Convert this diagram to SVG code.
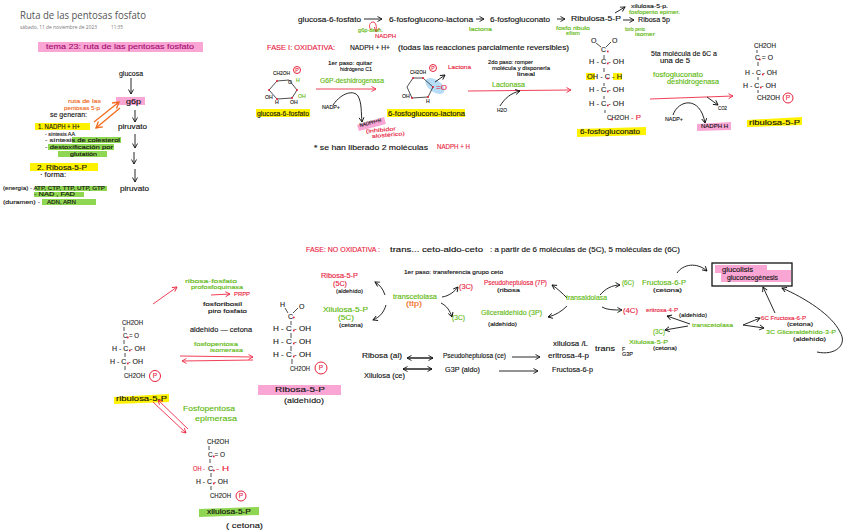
<svg xmlns="http://www.w3.org/2000/svg" width="848" height="531" viewBox="0 0 848 531">
<style>
text{font-family:"Liberation Sans",Arial,sans-serif;font-size:6.5px}
.c{fill:#222;stroke:#222;stroke-width:.12;font-size:7px}
.s{font-size:5.2px}
.k{fill:#111;stroke:#111;stroke-width:.12}
.r{fill:#e8203c;stroke:#e8203c;stroke-width:.12}
.g{fill:#5cb80c;stroke:#5cb80c;stroke-width:.12}
.o{fill:#f26a1b;stroke:#f26a1b;stroke-width:.12}
.m{fill:#a80d72;stroke:#a80d72;stroke-width:.12}
.h{fill:#777;font-family:"Open Sans",sans-serif;font-size:5px}
.y{fill:#fff200}.p{fill:#f9a6d5}.l{fill:#8fd652}
.ak{fill:none;stroke:#111;stroke-width:.9;marker-end:url(#mk)}
.ar{fill:none;stroke:#ee2a45;stroke-width:.9;marker-end:url(#mr)}
.ao{fill:none;stroke:#f26a1b;stroke-width:1.3;marker-end:url(#mo)}
.b{stroke:#222;stroke-width:.8;fill:none}
.dot{fill:#e8203c}
.pc{fill:none;stroke:#e8203c;stroke-width:1}
</style>
<defs>
<marker id="mk" markerWidth="7" markerHeight="7" refX="5.5" refY="3" orient="auto" markerUnits="userSpaceOnUse"><path d="M1 .5L5.5 3L1 5.5" fill="none" stroke="#111" stroke-width=".9"/></marker>
<marker id="mr" markerWidth="7" markerHeight="7" refX="5.5" refY="3" orient="auto" markerUnits="userSpaceOnUse"><path d="M1 .5L5.5 3L1 5.5" fill="none" stroke="#ee2a45" stroke-width=".9"/></marker>
<marker id="mo" markerWidth="9" markerHeight="9" refX="7" refY="4" orient="auto" markerUnits="userSpaceOnUse"><path d="M1 .5L7 4L1 7.5" fill="none" stroke="#f26a1b" stroke-width="1.3"/></marker>
</defs>
<rect width="848" height="531" fill="#fff"/>

<g id="highlights">
<rect class="p" x="38" y="42" width="165" height="10"/>
<rect class="p" x="116" y="97" width="29" height="8"/>
<rect class="y" x="35" y="123" width="55" height="7"/>
<rect class="l" x="72" y="137" width="49" height="6"/>
<rect class="l" x="48" y="144" width="66" height="6"/>
<rect class="l" x="58" y="151" width="49" height="6"/>
<rect class="y" x="30" y="163" width="68" height="8"/>
<rect class="l" x="35" y="186" width="72" height="5"/>
<rect class="l" x="34" y="192" width="50" height="5"/>
<rect class="l" x="42" y="199" width="54" height="6"/>
<rect class="y" x="256" y="109" width="54" height="8"/>
<rect class="y" x="387" y="109" width="78" height="8"/>
<path class="p" d="M357 125L384 117L386 124L359 131Z"/>
<ellipse cx="435" cy="86" rx="11" ry="6" transform="rotate(35 435 86)" fill="#b7dcf5"/>
<rect class="y" x="586" y="73" width="9" height="7"/>
<rect class="y" x="613" y="73" width="9" height="7"/>
<path class="y" d="M577 129L646 127V135L577 137Z"/>
<path class="p" d="M697 124L731 122V130L697 131Z"/>
<path class="y" d="M747 120L802 117V125L747 127Z"/>
<path class="y" d="M114 397L169 394V402L114 404Z"/>
<rect class="p" x="258" y="385" width="83" height="10"/>
<path class="l" d="M199 509L259 507V515L199 517Z"/>
<rect class="p" x="715" y="265" width="52" height="8"/>
<rect class="p" x="721" y="270" width="70" height="12"/>
</g>

<g id="connectors">
<path class="ak" d="M131 78V94"/>
<path class="ak" d="M135 110V122"/>
<path class="ak" d="M135 134V148"/>
<path class="ak" d="M134 152V164"/>
<path class="ak" d="M135 169V182"/>
<path class="ao" d="M94 122L119 102"/>
<path class="ao" d="M120 108L96 128"/>
<path class="ak" d="M364 19H382"/>
<path class="ak" d="M476 19H484"/>
<path class="ak" d="M557 19H565"/>
<path class="ak" d="M615 13L625 7"/>
<path class="ak" d="M623 20H634"/>
<path class="ar" d="M371 30C368 26 370 22 373 22C376 22 377 27 376 32"/>
<path class="ar" d="M316 89L376 89"/>
<path class="ak" d="M333 105C342 92 354 90 358 96C362 103 361 113 362 122"/>
<path class="ak" d="M435 82L445 75"/>
<path class="ar" d="M468 91L571 90"/>
<path class="ak" d="M500 106C505 98 511 93 520 91"/>
<path class="ar" d="M650 99L733 96"/>
<path class="ak" d="M707 97L718 105"/>
<path class="ak" d="M673 115C678 100 700 95 705 123"/>
<path class="ar" d="M153 304L177 287"/>
<path class="ar" d="M211 295L230 294"/>
<path class="ar" d="M180 356L253 357"/>
<path class="ar" d="M253 360L182 361"/>
<path class="ar" d="M153 402L186 433"/>
<path class="ar" d="M188 429L158 400"/>
<path class="ak" d="M385 295C383 289 380 285 375 282"/>
<path class="ak" d="M386 305C384 312 380 317 373 320"/>
<path class="ak" d="M442 297C449 296 454 292 458 287"/>
<path class="ak" d="M441 303C447 306 450 311 452 317"/>
<path class="ak" d="M567 298C562 293 558 289 552 285"/>
<path class="ak" d="M567 306C562 311 556 315 548 317"/>
<path class="ak" d="M600 295C605 289 612 285 620 285"/>
<path class="ak" d="M602 307C607 310 614 310 622 310"/>
<path class="ak" d="M407 358H433"/>
<path class="ak" d="M433 358H407"/>
<path class="ak" d="M512 357H540"/>
<path class="ak" d="M403 369H432"/>
<path class="ak" d="M432 369H403"/>
<path class="ak" d="M499 371H538"/>
<path class="ak" d="M677 273C683 264 697 262 707 271"/>
<path class="ak" d="M690 324L667 316"/>
<path class="ak" d="M688 326L665 330"/>
<path class="ak" d="M743 325L760 318"/>
<path class="ak" d="M743 325L764 328"/>
<path class="ak" d="M775 313L763 287"/>
<path class="ak" d="M817 352C835 356 848 345 840 332C832 315 805 298 782 288"/>
</g>

<g id="header">
<text x="20" y="19" textLength="126" lengthAdjust="spacingAndGlyphs" style="font-family:'Open Sans',sans-serif;font-size:11.5px" fill="#555">Ruta de las pentosas fosfato</text>
<text class="h" x="20" y="29" textLength="77" lengthAdjust="spacingAndGlyphs">sábado, 11 de noviembre de 2023</text>
<text class="h" x="111" y="29" textLength="12" lengthAdjust="spacingAndGlyphs">11:35</text>
<text class="m" x="46" y="49" textLength="148" lengthAdjust="spacingAndGlyphs">tema 23:  ruta de las pentosas fosfato</text>
</g>

<g id="resumen">
<text class="k" x="119" y="76" textLength="24" lengthAdjust="spacingAndGlyphs">glucosa</text>
<text class="k" x="126" y="104" textLength="15" lengthAdjust="spacingAndGlyphs">g6p</text>
<text class="o s" x="68" y="103" textLength="33" lengthAdjust="spacingAndGlyphs">ruta de las</text>
<text class="o s" x="64" y="110" textLength="36" lengthAdjust="spacingAndGlyphs">pentosas 5-p</text>
<text class="k" x="50" y="117" textLength="37" lengthAdjust="spacingAndGlyphs">se generan:</text>
<text class="k" x="38" y="129" textLength="42" lengthAdjust="spacingAndGlyphs">1. NADPH + H+</text>
<text class="k" x="118" y="129" textLength="29" lengthAdjust="spacingAndGlyphs">piruvato</text>
<text class="k s" x="45" y="136" textLength="30" lengthAdjust="spacingAndGlyphs">- síntesis AA</text>
<text class="k s" x="45" y="142" textLength="75" lengthAdjust="spacingAndGlyphs">- síntesis de colesterol</text>
<text class="k s" x="45" y="149" textLength="68" lengthAdjust="spacingAndGlyphs">- destoxificación por</text>
<text class="k s" x="70" y="156" textLength="27" lengthAdjust="spacingAndGlyphs">glutatión</text>
<text class="k" x="37" y="170" textLength="50" lengthAdjust="spacingAndGlyphs">2. Ribosa-5-P</text>
<text class="k" x="40" y="177" textLength="26" lengthAdjust="spacingAndGlyphs">· forma:</text>
<text class="k" x="120" y="191" textLength="29" lengthAdjust="spacingAndGlyphs">piruvato</text>
<text class="k s" x="3" y="190" textLength="102" lengthAdjust="spacingAndGlyphs">(energía) - ATP, CTP, TTP, UTP, GTP</text>
<text class="k s" x="34" y="196" textLength="41" lengthAdjust="spacingAndGlyphs">- NAD , FAD</text>
<text class="k s" x="3" y="204" textLength="37" lengthAdjust="spacingAndGlyphs">(duramen) -</text>
<text class="k s" x="47" y="204" textLength="29" lengthAdjust="spacingAndGlyphs">ADN, ARN</text>
</g>

<g id="fase-oxidativa-ruta">
<text class="k" x="298" y="22" textLength="63" lengthAdjust="spacingAndGlyphs">glucosa-6-fosfato</text>
<text class="k" x="389" y="22" textLength="84" lengthAdjust="spacingAndGlyphs">6-fosfoglucono-lactona</text>
<text class="k" x="490" y="22" textLength="60" lengthAdjust="spacingAndGlyphs">6-fosfogluconato</text>
<text class="k" x="571" y="21" textLength="50" lengthAdjust="spacingAndGlyphs">Ribulosa-5-P</text>
<text class="g s" x="358" y="32" textLength="25" lengthAdjust="spacingAndGlyphs">g6p-desh.</text>
<text class="r s" x="375" y="38" textLength="21" lengthAdjust="spacingAndGlyphs">NADPH</text>
<text class="g s" x="469" y="31" textLength="23" lengthAdjust="spacingAndGlyphs">lactona</text>
<text class="g s" x="556" y="30" textLength="34" lengthAdjust="spacingAndGlyphs">fosfo ribulo</text>
<text class="g s" x="566" y="35" textLength="14" lengthAdjust="spacingAndGlyphs">efism</text>
<text class="g s" x="625" y="31" textLength="20" lengthAdjust="spacingAndGlyphs">fosfo pento</text>
<text class="g s" x="635" y="35.500" textLength="20" lengthAdjust="spacingAndGlyphs">isomer</text>
<text class="k s" x="631" y="8" textLength="37" lengthAdjust="spacingAndGlyphs">xilulosa-5-p.</text>
<text class="g s" x="629" y="13.500" textLength="51" lengthAdjust="spacingAndGlyphs">fosfopento epimer.</text>
<text class="k" x="638" y="22" textLength="32" lengthAdjust="spacingAndGlyphs">Ribosa 5p</text>
<text class="r" x="267" y="50" textLength="68" lengthAdjust="spacingAndGlyphs">FASE I: OXIDATIVA:</text>
<text class="k" x="350" y="50" textLength="40" lengthAdjust="spacingAndGlyphs">NADPH + H+</text>
<text class="k" x="398" y="50" textLength="171" lengthAdjust="spacingAndGlyphs">(todas las reacciones parcialmente reversibles)</text>
</g>

<g id="glucosa-6-fosfato">
<text class="k s" x="273" y="75" textLength="17" lengthAdjust="spacingAndGlyphs">CH2OH</text>
<circle class="pc" cx="297" cy="70" r="3.5"/><text class="r s" x="295.200" y="72">P</text>
<path class="b" d="M277 81L289 80L297 90L292 98L277 99L269 90Z"/>
<g class="dot"><circle cx="277" cy="81" r="1"/><circle cx="297" cy="90" r="1"/><circle cx="292" cy="98" r="1"/><circle cx="277" cy="99" r="1"/><circle cx="269" cy="90" r="1"/></g>
<text class="k s" x="288" y="84">O</text>
<text class="g s" x="296" y="82">H</text>
<text class="k s" x="265" y="99">OH</text>
<text class="g s" x="298" y="98">OH</text>
<text class="k s" x="275" y="104">H</text>
<text class="k s" x="290" y="104">OH</text>
<text class="k" x="257" y="116" textLength="52" lengthAdjust="spacingAndGlyphs">glucosa-6-fosfato</text>
</g>

<g id="paso-1">
<text class="k s" x="328" y="65" textLength="44" lengthAdjust="spacingAndGlyphs">1er paso: quitar</text>
<text class="k s" x="340" y="71" textLength="32" lengthAdjust="spacingAndGlyphs">hidrógeno C1</text>
<text class="g" x="320" y="83" textLength="64" lengthAdjust="spacingAndGlyphs">G6P-deshidrogenasa</text>
<text class="k s" x="322" y="109" textLength="18" lengthAdjust="spacingAndGlyphs">NADP+</text>
<text class="k s" x="360" y="127" textLength="22" lengthAdjust="spacingAndGlyphs" transform="rotate(-14 360 127)">NADPH+H</text>
<text class="r s" x="366" y="133" textLength="30" lengthAdjust="spacingAndGlyphs" transform="rotate(-5 366 133)">(inhibidor</text>
<text class="r s" x="372" y="138" textLength="33" lengthAdjust="spacingAndGlyphs" transform="rotate(-5 372 138)">alostérico)</text>
<text class="k" x="314" y="150" textLength="114" lengthAdjust="spacingAndGlyphs">* se han liberado 2 moléculas</text>
<text class="r" x="437" y="149" textLength="33" lengthAdjust="spacingAndGlyphs">NADPH + H</text>
</g>

<g id="lactona">
<text class="k s" x="410" y="74" textLength="16" lengthAdjust="spacingAndGlyphs">CH2OH</text>
<circle class="pc" cx="433" cy="68" r="3.5"/><text class="r s" x="431.200" y="70">P</text>
<path class="b" d="M413 78L423 78L433 87L428 97L412 98L407 87Z"/>
<g class="dot"><circle cx="413" cy="78" r="1"/><circle cx="423" cy="78" r="1"/><circle cx="433" cy="87" r="1"/><circle cx="428" cy="97" r="1"/><circle cx="412" cy="98" r="1"/></g>
<text class="r" x="436" y="90" textLength="11" lengthAdjust="spacingAndGlyphs">=O</text>
<text class="r s" x="448" y="69" textLength="23" lengthAdjust="spacingAndGlyphs">Lactona</text>
<text class="k s" x="402" y="98">OH</text>
<text class="k s" x="426" y="103">H</text>
<text class="k" x="388" y="116" textLength="77" lengthAdjust="spacingAndGlyphs">6-fosfoglucono-lactona</text>
</g>

<g id="paso-2">
<text class="k s" x="488" y="64" textLength="45" lengthAdjust="spacingAndGlyphs">2do paso: romper</text>
<text class="k s" x="492" y="70" textLength="58" lengthAdjust="spacingAndGlyphs">molécula y disponerla</text>
<text class="k s" x="517" y="76" textLength="18" lengthAdjust="spacingAndGlyphs">lineal</text>
<text class="g" x="492" y="87" textLength="33" lengthAdjust="spacingAndGlyphs">Lactonasa</text>
<text class="k s" x="497" y="112" textLength="10" lengthAdjust="spacingAndGlyphs">H2O</text>
</g>

<g id="fosfogluconato">
<text class="c" x="591" y="43">O</text><text class="c" x="612" y="43">O</text>
<path class="b" d="M596 43L601 47M606 47L611 42M604 55V59M604 68V72M604 83V86M604 96V99M605 110V113"/>
<text class="c" x="601" y="52">C</text>
<text class="c" x="589" y="64" textLength="35" lengthAdjust="spacingAndGlyphs">H - C - OH</text>
<text class="c" x="587" y="79" textLength="35" lengthAdjust="spacingAndGlyphs">OH - C - H</text>
<text class="c" x="589" y="92" textLength="35" lengthAdjust="spacingAndGlyphs">H - C - OH</text>
<text class="c" x="589" y="106" textLength="35" lengthAdjust="spacingAndGlyphs">H - C - OH</text>
<text class="c" x="607" y="120" textLength="22" lengthAdjust="spacingAndGlyphs">CH2OH</text>
<text class="r" x="631" y="120" textLength="10" lengthAdjust="spacingAndGlyphs">- P</text>
<g class="dot" transform="translate(1.8 1.5)"><circle cx="606" cy="50" r=".9"/><circle cx="606" cy="62" r=".9"/><circle cx="606" cy="77" r=".9"/><circle cx="606" cy="90" r=".9"/><circle cx="606" cy="104" r=".9"/><circle cx="610" cy="118" r=".9"/></g>
<text class="k" x="580" y="134" textLength="60" lengthAdjust="spacingAndGlyphs">6-fosfogluconato</text>
</g>

<g id="paso-5">
<text class="k" x="651" y="56" textLength="66" lengthAdjust="spacingAndGlyphs">5ta molécula de 6C a</text>
<text class="k" x="660" y="63" textLength="30" lengthAdjust="spacingAndGlyphs">una de 5</text>
<text class="g" x="653" y="77" textLength="50" lengthAdjust="spacingAndGlyphs">fosfogluconato</text>
<text class="g" x="667" y="83.500" textLength="52" lengthAdjust="spacingAndGlyphs">deshidrogenasa</text>
<text class="k s" x="718" y="110" textLength="9" lengthAdjust="spacingAndGlyphs">CO2</text>
<text class="k s" x="665" y="121" textLength="18" lengthAdjust="spacingAndGlyphs">NADP+</text>
<text class="k s" x="701" y="128" textLength="27" lengthAdjust="spacingAndGlyphs">NADPH H</text>
</g>

<g id="ribulosa-superior">
<text class="c" x="754" y="48" textLength="22" lengthAdjust="spacingAndGlyphs">CH2OH</text>
<text class="c" x="755" y="60" textLength="18" lengthAdjust="spacingAndGlyphs">C = O</text>
<text class="c" x="745" y="75" textLength="32" lengthAdjust="spacingAndGlyphs">H - C - OH</text>
<text class="c" x="743" y="88" textLength="33" lengthAdjust="spacingAndGlyphs">H - C - OH</text>
<text class="c" x="757" y="100" textLength="23" lengthAdjust="spacingAndGlyphs">CH2OH</text>
<circle class="pc" cx="788" cy="98" r="5"/><text class="r" x="785.700" y="100.300">P</text>
<path class="b" d="M757 50V53M758 62V66M758 77V80M758 90V93"/>
<g class="dot" transform="translate(1.8 1.5)"><circle cx="758" cy="58" r=".9"/><circle cx="761" cy="73" r=".9"/><circle cx="759" cy="86" r=".9"/></g>
<text class="k" x="749" y="125" textLength="51" lengthAdjust="spacingAndGlyphs">ribulosa-5-P</text>
</g>

<g id="ribulosa-inferior">
<text class="c" x="122" y="325" textLength="21" lengthAdjust="spacingAndGlyphs">CH2OH</text>
<text class="c" x="123" y="338" textLength="16" lengthAdjust="spacingAndGlyphs">C = O</text>
<text class="c" x="112" y="351" textLength="33" lengthAdjust="spacingAndGlyphs">H - C - OH</text>
<text class="c" x="110" y="364" textLength="33" lengthAdjust="spacingAndGlyphs">H - C - OH</text>
<text class="c" x="124" y="378" textLength="21" lengthAdjust="spacingAndGlyphs">CH2OH</text>
<circle class="pc" cx="155" cy="376" r="5.500"/><text class="r" x="152.700" y="378.300">P</text>
<path class="b" d="M124 327V331M124 340V344M125 353V357M125 366V370"/>
<g class="dot" transform="translate(1.8 1.5)"><circle cx="126" cy="336" r=".9"/><circle cx="128" cy="349" r=".9"/><circle cx="126" cy="362" r=".9"/></g>
<text class="k" x="116" y="401" textLength="51" lengthAdjust="spacingAndGlyphs">ribulosa-5-P</text>
</g>

<g id="ramas-izquierda">
<text class="g s" x="185" y="283" textLength="52" lengthAdjust="spacingAndGlyphs">ribosa-fosfato</text>
<text class="g s" x="191" y="289" textLength="52" lengthAdjust="spacingAndGlyphs">profosfoquinasa</text>
<text class="r s" x="234" y="296" textLength="16" lengthAdjust="spacingAndGlyphs">PRPP</text>
<text class="k s" x="203" y="306" textLength="39" lengthAdjust="spacingAndGlyphs">fosforibosil</text>
<text class="k s" x="208" y="313" textLength="39" lengthAdjust="spacingAndGlyphs">piro fosfato</text>
<text class="k" x="190" y="332" textLength="62" lengthAdjust="spacingAndGlyphs">aldehído — cetona</text>
<text class="g s" x="194" y="346" textLength="44" lengthAdjust="spacingAndGlyphs">fosfopentosa</text>
<text class="g s" x="210" y="351.500" textLength="33" lengthAdjust="spacingAndGlyphs">isomerasa</text>
<text class="g" x="183" y="411" textLength="52" lengthAdjust="spacingAndGlyphs" style="font-size:8px">Fosfopentosa</text>
<text class="g" x="195" y="421" textLength="42" lengthAdjust="spacingAndGlyphs" style="font-size:8px">epimerasa</text>
</g>

<g id="ribosa-5-p">
<text class="c" x="280" y="307">H</text><text class="c" x="299" y="309">O</text>
<text class="c" x="288" y="319">C</text>
<path class="b" d="M285 308L288 313M298 308L293 313M291 321V325M291 333V338M291 346V351M292 359V364"/>
<text class="c" x="273" y="331" textLength="38" lengthAdjust="spacingAndGlyphs">H - C - OH</text>
<text class="c" x="273" y="344" textLength="38" lengthAdjust="spacingAndGlyphs">H - C - OH</text>
<text class="c" x="273" y="357" textLength="38" lengthAdjust="spacingAndGlyphs">H - C - OH</text>
<text class="c" x="290" y="371" textLength="20" lengthAdjust="spacingAndGlyphs">CH2OH</text>
<circle class="pc" cx="321" cy="368" r="6"/><text class="r" x="318.700" y="370.300">P</text>
<g class="dot" transform="translate(1.8 1.5)"><circle cx="292" cy="316" r=".9"/><circle cx="292" cy="329" r=".9"/><circle cx="292" cy="342" r=".9"/><circle cx="292" cy="355" r=".9"/></g>
<text class="k" x="275" y="392" textLength="50" lengthAdjust="spacingAndGlyphs">Ribosa-5-P</text>
<text class="k" x="284" y="403" textLength="40" lengthAdjust="spacingAndGlyphs" style="font-size:8px">(aldehído)</text>
</g>

<g id="xilulosa-5-p">
<text class="c" x="207" y="444" textLength="22" lengthAdjust="spacingAndGlyphs">CH2OH</text>
<text class="c" x="208" y="457" textLength="17" lengthAdjust="spacingAndGlyphs">C = O</text>
<text class="r" x="193" y="471" textLength="12" lengthAdjust="spacingAndGlyphs">OH -</text>
<text class="c" x="208" y="471">C</text>
<text class="r" x="216" y="471" textLength="13" lengthAdjust="spacingAndGlyphs">- H</text>
<text class="c" x="196" y="484" textLength="32" lengthAdjust="spacingAndGlyphs">H - C - OH</text>
<text class="c" x="210" y="498" textLength="21" lengthAdjust="spacingAndGlyphs">CH2OH</text>
<circle class="pc" cx="241" cy="496" r="5"/><text class="r" x="238.700" y="498.300">P</text>
<path class="b" d="M209 446V450M210 459V463M211 473V477M211 486V490"/>
<g class="dot" transform="translate(.8 1.5)"><circle cx="213" cy="455" r=".9"/><circle cx="213" cy="469" r=".9"/><circle cx="213" cy="482" r=".9"/></g>
<text class="k" x="207" y="514" textLength="44" lengthAdjust="spacingAndGlyphs">xilulosa-5-P</text>
<text class="k" x="226" y="528" textLength="37" lengthAdjust="spacingAndGlyphs" style="font-size:8px">( cetona)</text>
</g>

<g id="fase-no-oxidativa">
<text class="r" x="306" y="252" textLength="74" lengthAdjust="spacingAndGlyphs">FASE: NO OXIDATIVA :</text>
<text class="k" x="390" y="252" textLength="93" lengthAdjust="spacingAndGlyphs">trans... ceto-aldo-ceto</text>
<text class="k" x="490" y="252" textLength="190" lengthAdjust="spacingAndGlyphs">: a partir de 6 moléculas de (5C), 5 moléculas de (6C)</text>
<text class="k s" x="404" y="274" textLength="99" lengthAdjust="spacingAndGlyphs">1er paso: transferencia grupo ceto</text>
<text class="r" x="321" y="278" textLength="37" lengthAdjust="spacingAndGlyphs">Ribosa-5-P</text>
<text class="r" x="333" y="286" textLength="14" lengthAdjust="spacingAndGlyphs">(5C)</text>
<text class="k s" x="336" y="293" textLength="27" lengthAdjust="spacingAndGlyphs">(aldehído)</text>
<text class="g" x="323" y="312" textLength="45" lengthAdjust="spacingAndGlyphs">Xilulosa-5-P</text>
<text class="g" x="338" y="320" textLength="16" lengthAdjust="spacingAndGlyphs">(5C)</text>
<text class="k s" x="339" y="327" textLength="24" lengthAdjust="spacingAndGlyphs">(cetona)</text>
<text class="g" x="393" y="299" textLength="44" lengthAdjust="spacingAndGlyphs">transcetolasa</text>
<text class="o" x="406" y="306" textLength="16" lengthAdjust="spacingAndGlyphs">(ttp)</text>
<text class="r" x="459" y="289" textLength="14" lengthAdjust="spacingAndGlyphs">(3C)</text>
<text class="g" x="452" y="320" textLength="13" lengthAdjust="spacingAndGlyphs">(3C)</text>
<text class="r" x="484" y="285" textLength="63" lengthAdjust="spacingAndGlyphs">Pseudoheptulosa (7P)</text>
<text class="k s" x="497" y="292" textLength="23" lengthAdjust="spacingAndGlyphs">(ribosa</text>
<text class="g" x="481" y="315" textLength="61" lengthAdjust="spacingAndGlyphs">Gliceraldehído (3P)</text>
<text class="k s" x="488" y="326" textLength="29" lengthAdjust="spacingAndGlyphs">(aldehído)</text>
<text class="g" x="566" y="300" textLength="41" lengthAdjust="spacingAndGlyphs">transaldolasa</text>
</g>

<g id="tabla-inferior">
<text class="k" x="362" y="358" textLength="40" lengthAdjust="spacingAndGlyphs">Ribosa (al)</text>
<text class="k" x="443" y="358" textLength="63" lengthAdjust="spacingAndGlyphs">Pseudoheptulosa (ce)</text>
<text class="k" x="548" y="358" textLength="41" lengthAdjust="spacingAndGlyphs">eritrosa-4-p</text>
<text class="k" x="553" y="346" textLength="35" lengthAdjust="spacingAndGlyphs">xilulosa /L</text>
<text class="k" x="595" y="351" textLength="20" lengthAdjust="spacingAndGlyphs">trans</text>
<text class="k s" x="622" y="350.500">F</text>
<text class="k s" x="622" y="356" textLength="11" lengthAdjust="spacingAndGlyphs">G3P</text>
<text class="k" x="364" y="378" textLength="41" lengthAdjust="spacingAndGlyphs">Xilulosa (ce)</text>
<text class="k" x="445" y="372" textLength="35" lengthAdjust="spacingAndGlyphs">G3P (aldo)</text>
<text class="k" x="552" y="372" textLength="41" lengthAdjust="spacingAndGlyphs">Fructosa-6-p</text>
</g>

<g id="glucolisis-box">
<rect x="712" y="263" width="80" height="23" fill="none" stroke="#111" stroke-width="1.300"/>
<text class="k" x="722" y="272" textLength="31" lengthAdjust="spacingAndGlyphs">glucolisis</text>
<text class="k" x="727" y="280" textLength="51" lengthAdjust="spacingAndGlyphs">gluconeogénesis</text>
</g>

<g id="fase-no-oxidativa-derecha">
<text class="g" x="622" y="285" textLength="12" lengthAdjust="spacingAndGlyphs">(6C)</text>
<text class="g" x="642" y="285" textLength="44" lengthAdjust="spacingAndGlyphs">Fructosa-6-P</text>
<text class="k s" x="653" y="292" textLength="29" lengthAdjust="spacingAndGlyphs">(cetona)</text>
<text class="r" x="623" y="313" textLength="15" lengthAdjust="spacingAndGlyphs">(4C)</text>
<text class="r s" x="646" y="312" textLength="32" lengthAdjust="spacingAndGlyphs">eritrosa-4-P</text>
<text class="k s" x="679" y="317" textLength="28" lengthAdjust="spacingAndGlyphs">(aldehído)</text>
<text class="g s" x="692" y="327" textLength="41" lengthAdjust="spacingAndGlyphs">transcetolasa</text>
<text class="g" x="653" y="334" textLength="12" lengthAdjust="spacingAndGlyphs">(3C)</text>
<text class="g s" x="629" y="344" textLength="39" lengthAdjust="spacingAndGlyphs">Xilulosa-5-P</text>
<text class="k s" x="653" y="350" textLength="24" lengthAdjust="spacingAndGlyphs">(cetona)</text>
<text class="r s" x="761" y="319.500" textLength="45" lengthAdjust="spacingAndGlyphs">6C Fructosa-6-P</text>
<text class="k s" x="787" y="325.500" textLength="26" lengthAdjust="spacingAndGlyphs">(cetona)</text>
<text class="g s" x="766" y="334" textLength="70" lengthAdjust="spacingAndGlyphs">3C Gliceraldehído-3-P</text>
<text class="k s" x="793" y="340.500" textLength="33" lengthAdjust="spacingAndGlyphs">(aldehído)</text>
</g>
</svg>
